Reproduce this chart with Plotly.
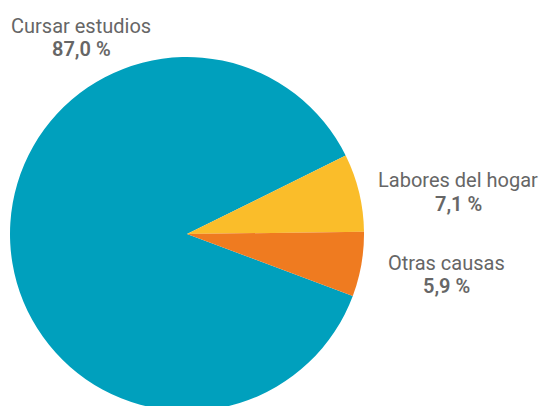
import plotly.graph_objects as go

categories = ["Cursar estudios", "Labores del hogar", "Otras causas"]
values = [87.0, 7.1, 5.9]
value_labels = ["87,0 %", "7,1 %", "5,9 %"]
colors = ["#00A0BD", "#FABD2A", "#EF7B20"]

W, H = 543, 411   # pie runs slightly past the bottom of the 406px window
T, B = 57, 0

fig = go.Figure(go.Pie(
    labels=categories,
    values=values,
    sort=False,
    direction="clockwise",
    rotation=110.5,
    marker=dict(colors=colors, line=dict(width=0)),
    textinfo="none",
    hoverinfo="label+percent",
    domain=dict(x=[0, 374 / W], y=[0, 1]),
    showlegend=False,
))

# label positions in pixels: (centre x, name centre y, value centre y)
label_px = [(81, 25, 48), (458, 179, 203), (446, 261.5, 285)]


def px_to_paper(px, py):
    return px / W, (H - B - py) / (H - T - B)


for cat, vl, (px, py1, py2) in zip(categories, value_labels, label_px):
    for txt, py, wt in ((cat, py1, 400), (vl, py2, 600)):
        x, y = px_to_paper(px, py + 1)
        fig.add_annotation(
            x=x, y=y, xref="paper", yref="paper",
            text=txt, showarrow=False,
            xanchor="center", yanchor="middle", align="center",
            font=dict(family="Roboto", size=20, color="#666666", weight=wt),
        )

fig.update_layout(
    width=W, height=H,
    margin=dict(l=0, r=0, t=T, b=B),
    paper_bgcolor="white", plot_bgcolor="white",
)

fig.write_html(
    "out.html",
    config={"displayModeBar": False},
    post_script="document.body.style.margin='0';document.body.style.overflow='hidden';",
)
